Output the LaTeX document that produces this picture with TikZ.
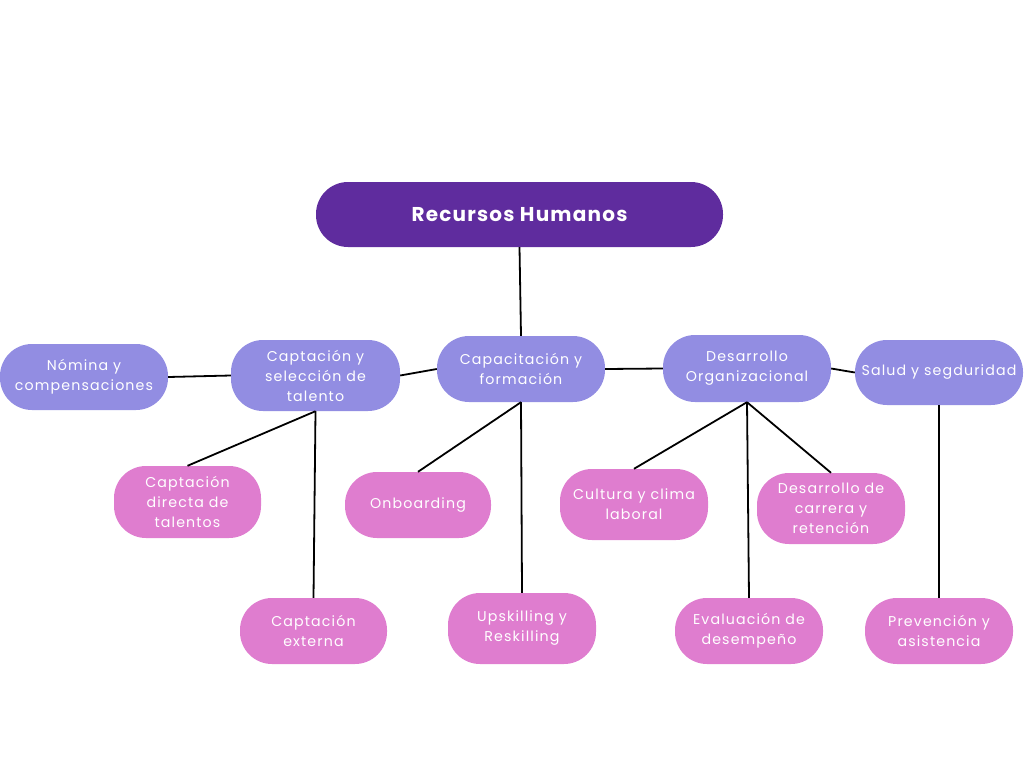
\documentclass[tikz,border=0pt]{standalone}
\usepackage{fontspec}
\setmainfont{Poppins}[LetterSpace=8]
\newfontfamily\titlefont{Poppins}[LetterSpace=6]
\definecolor{rootc}{HTML}{5F2C9E}
\definecolor{mainc}{HTML}{928DE2}
\definecolor{subc}{HTML}{DF7DCF}
\tikzset{
  pill/.style={rectangle, rounded corners=32pt, inner sep=0pt, text=white, align=center,
    font=\fontsize{14.2}{20}\selectfont},
  mainbox/.style={pill, fill=mainc},
  subbox/.style={pill, fill=subc},
  link/.style={draw=black, line width=1.8pt}
}
\begin{document}
\begin{tikzpicture}[x=1pt,y=-1pt]
\useasboundingbox (0,0) rectangle (1024,768);
\node[pill, fill=rootc, minimum width=407pt, minimum height=65pt, font=\titlefont\bfseries\fontsize{20}{24}\selectfont] (root) at (519.5,214.5) {Recursos Humanos};
\node[mainbox, minimum width=168pt, minimum height=66pt] (nom) at (84,377) {Nómina y\\compensaciones};
\node[mainbox, minimum width=169pt, minimum height=71pt] (csel) at (315.5,375.5) {Captación y\\selección de\\talento};
\node[mainbox, minimum width=168pt, minimum height=66pt] (cap) at (521,369) {Capacitación y\\formación};
\node[mainbox, minimum width=168pt, minimum height=67pt] (dorg) at (747,368.5) {Desarrollo\\Organizacional};
\node[mainbox, minimum width=168pt, minimum height=65pt] (sal) at (939,372.5) {Salud y segduridad};
\node[subbox, minimum width=147pt, minimum height=72pt] (cdir) at (187.5,502) {Captación\\directa de\\talentos};
\node[subbox, minimum width=147pt, minimum height=66pt] (cext) at (313.5,631) {Captación\\externa};
\node[subbox, minimum width=146pt, minimum height=66pt] (onb) at (418,505) {Onboarding};
\node[subbox, minimum width=148pt, minimum height=71pt] (ups) at (522,628.5) {Upskilling y\\Reskilling};
\node[subbox, minimum width=148pt, minimum height=71pt] (cul) at (634,504.5) {Cultura y clima\\laboral};
\node[subbox, minimum width=148pt, minimum height=71pt] (dcar) at (831,508.5) {Desarrollo de\\carrera y\\retención};
\node[subbox, minimum width=148pt, minimum height=66pt] (eva) at (749,631) {Evaluación de\\desempeño};
\node[subbox, minimum width=148pt, minimum height=66pt] (pre) at (939,631) {Prevención y\\asistencia};
\draw[link] (root.south) -- (cap.north);
\draw[link] (nom.east) -- (csel.west);
\draw[link] (csel.east) -- (cap.west);
\draw[link] (cap.east) -- (dorg.west);
\draw[link] (dorg.east) -- (sal.west);
\draw[link] (csel.south) -- (cdir.north);
\draw[link] (csel.south) -- (cext.north);
\draw[link] (cap.south) -- (onb.north);
\draw[link] (cap.south) -- (ups.north);
\draw[link] (dorg.south) -- (cul.north);
\draw[link] (dorg.south) -- (eva.north);
\draw[link] (dorg.south) -- (dcar.north);
\draw[link] (sal.south) -- (pre.north);
\end{tikzpicture}
\end{document}
